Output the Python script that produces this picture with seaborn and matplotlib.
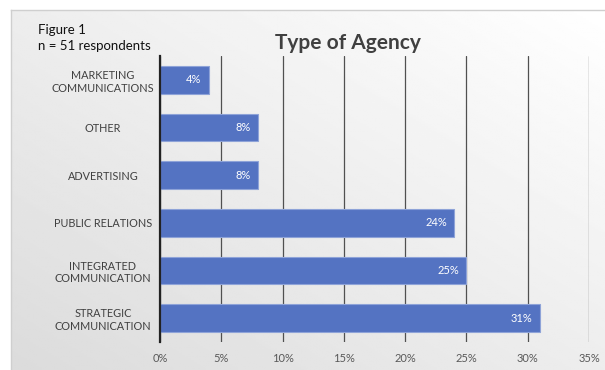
import matplotlib
matplotlib.use("Agg")
import matplotlib.pyplot as plt
import seaborn as sns
import numpy as np
import pandas as pd

categories = ["MARKETING\nCOMMUNICATIONS", "OTHER", "ADVERTISING", "PUBLIC RELATIONS",
              "INTEGRATED\nCOMMUNICATION", "STRATEGIC\nCOMMUNICATION"]
values = [4, 8, 8, 24, 25, 31]
xticks = [0, 5, 10, 15, 20, 25, 30, 35]
xtick_labels = ["0%", "5%", "10%", "15%", "20%", "25%", "30%", "35%"]

sns.set_style("white")
plt.rcParams['font.family'] = ['Lato', 'DejaVu Sans']

df = pd.DataFrame({"cat": categories, "val": values})

fig = plt.figure(figsize=(6.05, 3.70), dpi=100)
fig.patch.set_facecolor("white")

# background gradient frame
bg = fig.add_axes([11/605, 0, 1 - 11/605, 1 - 10/370], zorder=0)
gx, gy = np.meshgrid(np.linspace(0, 1, 200), np.linspace(0, 1, 200))
grad = 0.5 * gx + 0.5 * gy  # 1 at top-right
img = 0.86 + 0.14 * grad
bg.imshow(img, cmap="gray", vmin=0, vmax=1, aspect="auto", extent=[0, 1, 0, 1], origin="lower")
bg.set_xticks([]); bg.set_yticks([])
for k, s in bg.spines.items():
    s.set_color("#cfcfcf")
    s.set_linewidth(1)
    if k in ("right", "bottom"):
        s.set_visible(False)

ax = fig.add_axes([160/605, 1 - 342/370, 429/605, 286/370], zorder=1)
ax.patch.set_alpha(0)
sns.barplot(data=df, x="val", y="cat", orient="h", color="#5473c2", width=0.58,
            edgecolor="#8ea3d8", linewidth=0.8, saturation=1, ax=ax)

ax.set_xlim(0, 35)
ax.set_xticks(xticks)
ax.set_xticklabels(xtick_labels, fontsize=8, color="#595959")
ax.tick_params(axis="x", length=0, pad=8)
ax.tick_params(axis="y", length=0, pad=0, labelsize=7.8, labelcolor="#404040")
for lab in ax.get_yticklabels():
    lab.set_horizontalalignment("center")
    lab.set_x(-0.133)
ax.set_xlabel(""); ax.set_ylabel("")
ax.grid(axis="x", color="#505050", linewidth=0.9)
ax.set_axisbelow(True)
for s in ["top", "right", "bottom"]:
    ax.spines[s].set_visible(False)
ax.spines["left"].set_color("#222222")
ax.spines["left"].set_linewidth(1.6)

for i, v in enumerate(values):
    ax.text(v - 0.6, i, f"{v}%", ha="right", va="center", color="white", fontsize=8)

fig.text(348/605, 1 - 43/370, "Type of Agency", ha="center", va="center",
         fontsize=15, fontweight="bold", color="#404040")
fig.text(38/605, 1 - 38/370, "Figure 1\nn = 51 respondents", ha="left", va="center",
         fontsize=9.5, color="#111111", linespacing=1.35)

fig.savefig("out.png", dpi=100)
